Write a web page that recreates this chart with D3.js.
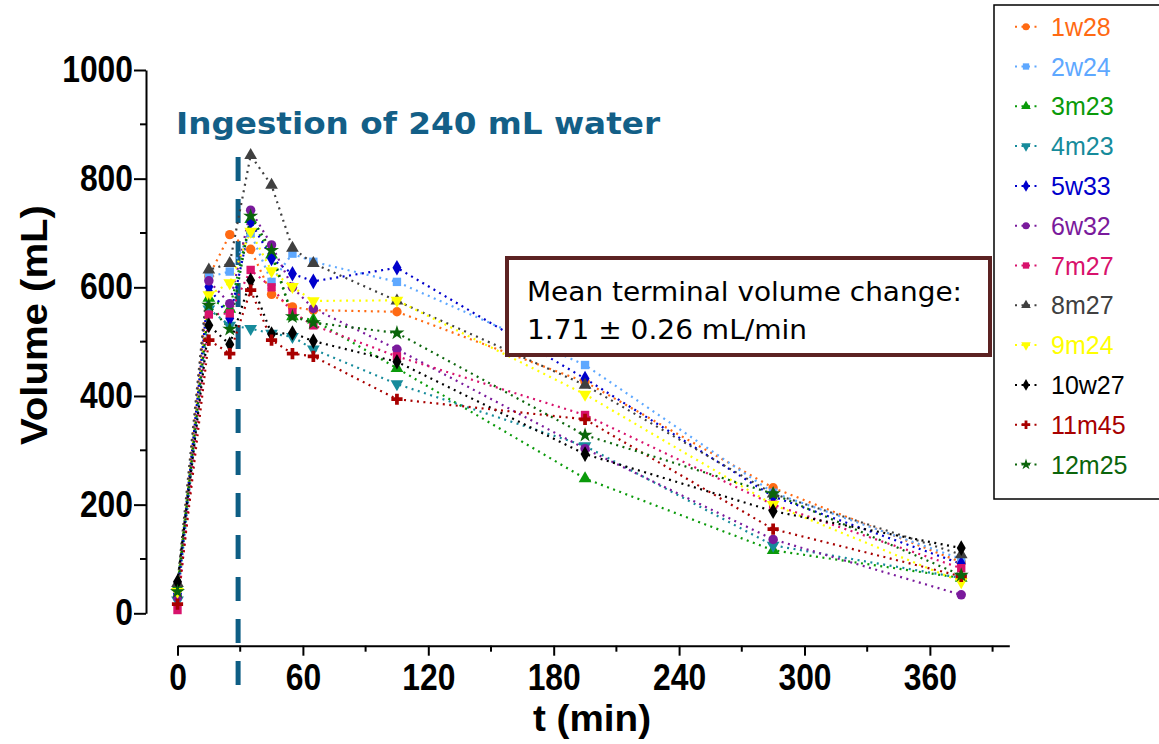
<!DOCTYPE html>
<html>
<head>
<meta charset="utf-8">
<script src="https://cdn.jsdelivr.net/npm/d3@7"></script>
<style>
  body { margin: 0; background: #fff; }
  svg { display: block; }
</style>
</head>
<body>
<div id="chart"></div>
<script>
// Data
const times = [0, 15, 25, 35, 45, 55, 65, 105, 195, 285, 375];
const subjects = ["1w28", "2w24", "3m23", "4m23", "5w33", "6w32", "7m27", "8m27", "9m24", "10w27", "11m45", "12m25"];
const v1w28 = [44, 620, 697, 670, 587, 564, 558, 555, 426, 231, 94];
const v2w24 = [30, 619, 629, 700, 610, 662, 647, 610, 457, 222, 100];
const v3m23 = [50, 580, 560, 725, 660, 546, 540, 451, 248, 116, 65];
const v4m23 = [24, 560, 530, 524, 515, 509, 486, 422, 308, 125, 65];
const v5w33 = [36, 601, 543, 721, 653, 625, 611, 636, 432, 215, 91];
const v6w32 = [30, 612, 570, 742, 678, 600, 561, 486, 303, 136, 34];
const v7m27 = [6, 550, 552, 632, 600, 554, 530, 473, 365, 200, 83];
const v8m27 = [55, 632, 644, 843, 788, 672, 644, 575, 420, 220, 108];
const v9m24 = [40, 586, 608, 703, 630, 601, 575, 576, 403, 200, 58];
const v10w27 = [58, 530, 495, 613, 514, 516, 501, 463, 293, 188, 120];
const v11m45 = [17, 503, 478, 595, 503, 478, 473, 394, 357, 155, 68];
const v12m25 = [40, 567, 523, 731, 668, 546, 535, 516, 328, 220, 70];
const xTicks = [0, 60, 120, 180, 240, 300, 360];
const yTicks = [0, 200, 400, 600, 800, 1000];

const allValues = [v1w28, v2w24, v3m23, v4m23, v5w33, v6w32, v7m27, v8m27, v9m24, v10w27, v11m45, v12m25];
const colors = ["#ff6a13", "#5ea8ff", "#0a9a0a", "#168b9b", "#0000cc", "#7a1a9c",
                "#d8126c", "#404040", "#ffff00", "#000000", "#a80000", "#0b650b"];
const symbols = [d3.symbolCircle, d3.symbolSquare, d3.symbolTriangle, "down", d3.symbolDiamond, d3.symbolCircle,
                 d3.symbolSquare, d3.symbolTriangle, "down", d3.symbolDiamond, d3.symbolCross, d3.symbolStar];

const width = 1159, height = 744;
const svg = d3.select("#chart").append("svg").attr("width", width).attr("height", height);

const x = d3.scaleLinear().domain([0, 398]).range([177.5, 1009.3]);
const y = d3.scaleLinear().domain([0, 1000]).range([613.3, 70]);

const tickFont = "Arial, 'Liberation Sans', sans-serif";
const digitW = 17.7;

// Y axis
const yAxisG = svg.append("g").attr("transform", "translate(146,0)");
yAxisG.selectAll(".minor")
  .data(d3.range(100, 1000, 200))
  .join("line")
  .attr("x1", -6).attr("x2", 0)
  .attr("y1", d => y(d)).attr("y2", d => y(d))
  .attr("stroke", "#000").attr("stroke-width", 2);
yAxisG.call(d3.axisLeft(y).tickValues(yTicks).tickFormat(d3.format("d")).tickSize(12).tickPadding(1).tickSizeOuter(0));
yAxisG.select(".domain").attr("stroke-width", 2);
yAxisG.selectAll(".tick line").attr("stroke-width", 2);
yAxisG.selectAll(".tick text")
  .attr("font-family", tickFont).attr("font-weight", "bold").attr("font-size", 36).attr("fill", "#000")
  .attr("textLength", d => String(d).length * digitW).attr("lengthAdjust", "spacingAndGlyphs");

// X axis
const xAxisG = svg.append("g").attr("transform", "translate(0,645.7)");
xAxisG.selectAll(".minor")
  .data(d3.range(30, 398, 60))
  .join("line")
  .attr("x1", d => x(d)).attr("x2", d => x(d))
  .attr("y1", 0).attr("y2", 6)
  .attr("stroke", "#000").attr("stroke-width", 2);
xAxisG.call(d3.axisBottom(x).tickValues(xTicks).tickFormat(d3.format("d")).tickSize(10).tickPadding(9).tickSizeOuter(0));
xAxisG.select(".domain").attr("stroke-width", 2);
xAxisG.selectAll(".tick line").attr("stroke-width", 2);
xAxisG.selectAll(".tick text")
  .attr("font-family", tickFont).attr("font-weight", "bold").attr("font-size", 36).attr("fill", "#000")
  .attr("textLength", d => String(d).length * digitW).attr("lengthAdjust", "spacingAndGlyphs");

// Axis titles
svg.append("text")
  .attr("transform", "translate(47,325) rotate(-90)")
  .attr("text-anchor", "middle")
  .attr("font-family", "Arial, 'Liberation Sans', sans-serif").attr("font-weight", "bold").attr("font-size", 37)
  .attr("textLength", 240).attr("lengthAdjust", "spacingAndGlyphs")
  .text("Volume (mL)");
svg.append("text")
  .attr("x", 592).attr("y", 731)
  .attr("text-anchor", "middle")
  .attr("font-family", "Arial, 'Liberation Sans', sans-serif").attr("font-weight", "bold").attr("font-size", 37)
  .attr("textLength", 118).attr("lengthAdjust", "spacingAndGlyphs")
  .text("t (min)");

// Ingestion marker
svg.append("line")
  .attr("x1", x(29)).attr("x2", x(29))
  .attr("y1", 157).attr("y2", 692)
  .attr("stroke", "#0e5e85").attr("stroke-width", 5)
  .attr("stroke-dasharray", "24,18");
svg.append("text")
  .attr("x", 176).attr("y", 134)
  .attr("font-family", "'DejaVu Sans', Verdana, sans-serif").attr("font-weight", "bold").attr("font-size", 31)
  .attr("fill", "#135f87")
  .attr("textLength", 484).attr("lengthAdjust", "spacingAndGlyphs")
  .text("Ingestion of 240 mL water");

// symbol helper
function symbolPath(sym, size) {
  if (sym === "down") return d3.symbol().type(d3.symbolTriangle).size(size)();
  return d3.symbol().type(sym).size(size)();
}
function symbolTransform(sym) {
  return sym === "down" ? " rotate(180)" : "";
}

// Lines
const line = d3.line().x((d, i) => x(times[i])).y(d => y(d));
const seriesG = svg.append("g");
allValues.forEach((vals, k) => {
  seriesG.append("path")
    .attr("d", line(vals))
    .attr("fill", "none")
    .attr("stroke", colors[k])
    .attr("stroke-width", 2.2)
    .attr("stroke-dasharray", "2,4.5");
});
allValues.forEach((vals, k) => {
  seriesG.selectAll(null)
    .data(vals)
    .join("path")
    .attr("d", symbolPath(symbols[k], 70))
    .attr("transform", (d, i) => `translate(${x(times[i])},${y(d)})` + symbolTransform(symbols[k]))
    .attr("fill", colors[k]);
});

// Annotation box
svg.append("rect")
  .attr("x", 507).attr("y", 258).attr("width", 483).attr("height", 97)
  .attr("fill", "#fff").attr("stroke", "#5c2222").attr("stroke-width", 4);
svg.append("text")
  .attr("x", 527).attr("y", 301)
  .attr("font-family", "'DejaVu Sans', Verdana, sans-serif").attr("font-size", 26)
  .attr("textLength", 435).attr("lengthAdjust", "spacingAndGlyphs")
  .text("Mean terminal volume change:");
svg.append("text")
  .attr("x", 527).attr("y", 339)
  .attr("font-family", "'DejaVu Sans', Verdana, sans-serif").attr("font-size", 26)
  .attr("textLength", 280).attr("lengthAdjust", "spacingAndGlyphs")
  .text("1.71 \u00b1 0.26 mL/min");

// Legend
const legend = svg.append("g");
legend.append("rect")
  .attr("x", 994).attr("y", 5).attr("width", 200).attr("height", 494)
  .attr("fill", "none").attr("stroke", "#000").attr("stroke-width", 1.5);
subjects.forEach((name, k) => {
  const ly = 26.7 + 39.8 * k;
  legend.append("line")
    .attr("x1", 1015).attr("x2", 1037).attr("y1", ly).attr("y2", ly)
    .attr("stroke", colors[k]).attr("stroke-width", 2).attr("stroke-dasharray", "2,4.5");
  legend.append("path")
    .attr("d", symbolPath(symbols[k], 40))
    .attr("transform", `translate(1026,${ly})` + symbolTransform(symbols[k]))
    .attr("fill", colors[k]);
  legend.append("text")
    .attr("x", 1051).attr("y", ly + 9)
    .attr("font-family", "Arial, 'Liberation Sans', sans-serif").attr("font-size", 25)
    .attr("fill", colors[k])
    .text(name);
});
</script>
</body>
</html>
